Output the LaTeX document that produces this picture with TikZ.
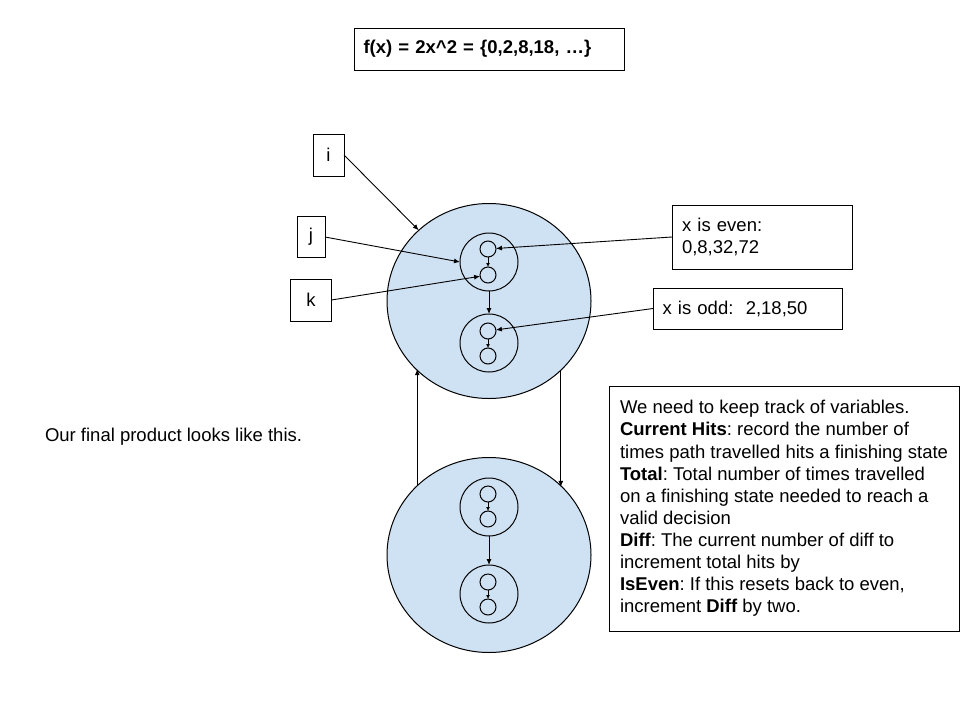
\documentclass[tikz,border=0pt]{standalone}
\usepackage{fontspec}
\setmainfont{Liberation Sans}
\usetikzlibrary{shapes.geometric,arrows.meta}
\definecolor{lblue}{HTML}{CFE2F3}
\begin{document}
\frenchspacing
\begin{tikzpicture}[x=1pt,y=-1pt,
  every node/.style={font=\fontsize{18.5}{22.1}\selectfont, inner sep=0pt, outer sep=0pt},
  box/.style={draw, line width=1pt},
  big/.style={ellipse, draw, fill=lblue, minimum width=204pt, minimum height=195pt, line width=1pt},
  mid/.style={circle, draw, minimum size=58pt, line width=1pt},
  sml/.style={circle, draw, minimum size=16pt, line width=1pt},
  arr/.style={-{Latex[length=6pt,width=5pt]}, line width=0.9pt},
  sarr/.style={-{Latex[length=4pt,width=4pt]}, line width=0.9pt}]
\useasboundingbox[fill=white] (0,0) rectangle (960,720);

% title
\node[box, anchor=west, minimum height=42pt, text width=251pt, inner xsep=9.5pt, align=left] (title) at (354,49)
  {\textbf{f(x) = 2x\textasciicircum 2 = \{0,2,8,18, …\}}};

% left label
\node[anchor=west] (final) at (45,437) {Our final product looks like this.};

% variable boxes
\node[box, minimum width=31pt, minimum height=42pt] (i) at (328.5,155) {i};
\node[box, minimum width=28pt, minimum height=41pt] (j) at (311,237) {j};
\node[box, minimum width=41pt, minimum height=42pt] (k) at (311,300) {k};

% big circles
\node[big] (bigA) at (489,301) {};
\node[big] (bigB) at (489,555) {};

% inner structure top
\node[mid] (a1) at (489,262) {};
\node[mid] (a2) at (489,343) {};
\node[sml] (s1) at (488,249) {};
\node[sml] (s2) at (488,275) {};
\node[sml] (s3) at (488,331) {};
\node[sml] (s4) at (488,356) {};
\draw[arr] (a1) -- (a2);
\draw[sarr] (s1) -- (s2);
\draw[sarr] (s3) -- (s4);

% inner structure bottom
\node[mid] (b1) at (489,507) {};
\node[mid] (b2) at (489,594) {};
\node[sml] (t1) at (488,494) {};
\node[sml] (t2) at (488,519) {};
\node[sml] (t3) at (488,582) {};
\node[sml] (t4) at (488,607) {};
\draw[arr] (b1) -- (b2);
\draw[sarr] (t1) -- (t2);
\draw[sarr] (t3) -- (t4);

% value boxes
\node[box, anchor=north west, minimum width=180pt, minimum height=64pt, text width=160pt, inner xsep=10pt, align=left] (even) at (672,205)
  {x is even:\\0,8,32,72};
\node[box, anchor=north west, minimum width=180pt, minimum height=41pt, text width=170pt, inner xsep=9.5pt, align=left] (odd) at (653,288)
  {x is odd:\ \ 2,18,50};

% connectors
\draw[arr] (i.east) -- (bigA);
\draw[arr] (j.east) -- (a1.west);
\draw[arr] (k.east) -- (s2);
\draw[arr] (even.west) -- (s1);
\draw[arr] (odd.west) -- (s3);
\draw[arr] (bigB.136.5) -- (bigB.136.5 |- bigA.223.5);
\draw[arr] (bigA.316.5) -- (bigA.316.5 |- bigB.43.5);

% notes
\node[box, anchor=north west, minimum width=350pt, minimum height=245pt] (notes) at (609,386) {};
\node[anchor=west, align=left] (notestext) at ([xshift=11pt]notes.west)
  {We need to keep track of variables.\\
   \textbf{Current Hits}: record the number of\\
   times path travelled hits a finishing state\\
   \textbf{Total}: Total number of times travelled\\
   on a finishing state needed to reach a\\
   valid decision\\
   \textbf{Diff}: The current number of diff to\\
   increment total hits by\\
   \textbf{IsEven}: If this resets back to even,\\
   increment \textbf{Diff} by two.};
\end{tikzpicture}
\end{document}
